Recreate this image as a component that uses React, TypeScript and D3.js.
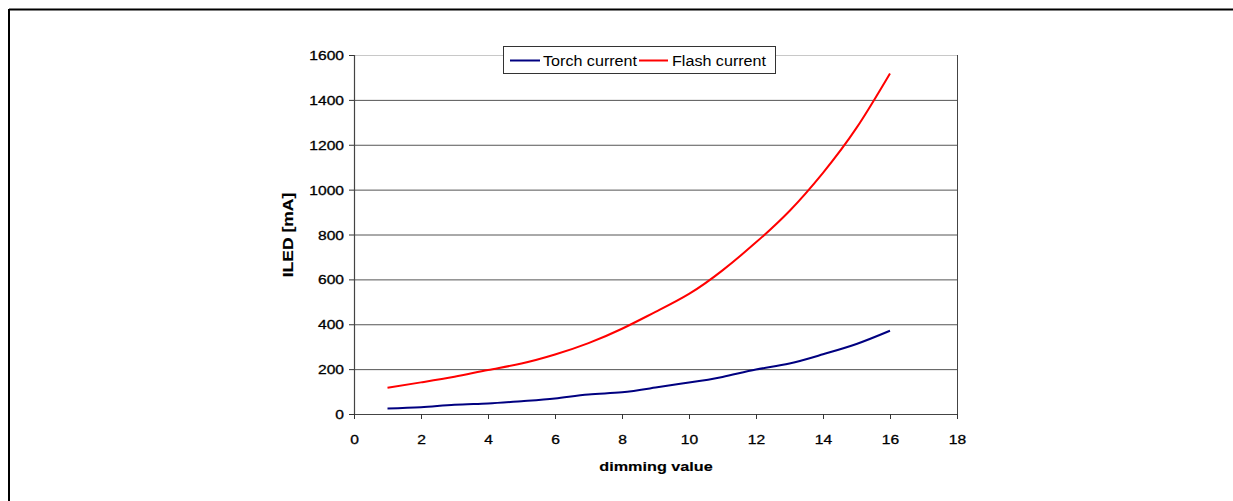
import React from "react";
import * as d3 from "d3";

const dimming = [1, 2, 3, 4, 5, 6, 7, 8, 9, 10, 11, 12, 13, 14, 15, 16];
const torchCurrent = [25, 30, 41, 47, 57, 69, 87, 97, 118, 140, 165, 198, 225, 266, 312, 371];
const flashCurrent = [117, 141, 166, 196, 225, 265, 316, 380, 455, 535, 640, 765, 905, 1075, 1275, 1518];
const xTicks = [0, 2, 4, 6, 8, 10, 12, 14, 16, 18];
const yTicks = [0, 200, 400, 600, 800, 1000, 1200, 1400, 1600];
const seriesNames = ["Torch current", "Flash current"];
const seriesColors = ["#000080", "#ff0000"];

const W = 1233;
const H = 501;
const X0 = 354, X1 = 957, Y0 = 414, Y1 = 55;
const FONT = "'Liberation Sans', Arial, Helvetica, sans-serif";
const SX = 1.2;

function SText({ x, y, anchor, size, bold, children, rotate, sx }: any) {
  const s = sx || SX;
  const tr = rotate
    ? `translate(${x},${y}) rotate(${rotate}) scale(${s},1)`
    : `translate(${x},${y}) scale(${s},1)`;
  return (
    <text
      transform={tr}
      textAnchor={anchor}
      fontFamily={FONT}
      fontSize={size}
      fontWeight={bold ? "bold" : "normal"}
      fill="#000"
      stroke="#000"
      strokeWidth={bold ? 0.15 : 0.3}
    >
      {children}
    </text>
  );
}

export default function App() {
  const x = d3.scaleLinear().domain([0, 18]).range([X0, X1]);
  const y = d3.scaleLinear().domain([0, 1600]).range([Y0, Y1]);
  const line = d3
    .line<number>()
    .x((_, i) => x(dimming[i]))
    .y((d) => y(d))
    .curve(d3.curveNatural);

  const series = [torchCurrent, flashCurrent];

  return (
    <svg
      width={W}
      height={H}
      style={{ position: "fixed", left: 0, top: 0, background: "#fff" }}
    >
      <rect x={0} y={0} width={W} height={H} fill="#fff" />
      {/* frame */}
      <line x1={9} x2={W} y1={9.5} y2={9.5} stroke="#000" strokeWidth={2} />
      <line x1={9} x2={9} y1={9} y2={H} stroke="#000" strokeWidth={2} />

      {/* gridlines */}
      {yTicks.filter((t) => t > 0 && t < 1600).map((t) => (
        <line key={t} x1={X0} x2={X1} y1={y(t) + 0.5} y2={y(t) + 0.5} stroke="#555" strokeWidth={1} />
      ))}
      <line x1={X0} x2={X1} y1={y(1600) + 0.5} y2={y(1600) + 0.5} stroke="#c8c8c8" strokeWidth={1} />
      <line x1={X1 + 0.5} x2={X1 + 0.5} y1={y(1600)} y2={Y0} stroke="#444" strokeWidth={1} />

      {/* axes */}
      <line x1={X0 + 0.5} x2={X0 + 0.5} y1={y(1600)} y2={Y0} stroke="#444" strokeWidth={1.2} />
      <line x1={X0} x2={X1} y1={Y0 + 0.5} y2={Y0 + 0.5} stroke="#444" strokeWidth={1.2} />
      {yTicks.map((t) => (
        <g key={"y" + t}>
          <line x1={X0 - 5} x2={X0} y1={y(t) + 0.5} y2={y(t) + 0.5} stroke="#333" />
          <SText x={X0 - 10} y={y(t) + 5} anchor="end" size={13}>
            {t}
          </SText>
        </g>
      ))}
      {xTicks.map((t) => (
        <g key={"x" + t}>
          <line x1={x(t) + 0.5} x2={x(t) + 0.5} y1={Y0} y2={Y0 + 5} stroke="#333" />
          <SText x={x(t) + 0.5} y={Y0 + 30} anchor="middle" size={13}>
            {t}
          </SText>
        </g>
      ))}

      {/* axis titles */}
      <SText x={656} y={471} anchor="middle" size={13.5} bold>
        dimming value
      </SText>
      <SText x={293} y={235} anchor="middle" size={14} bold rotate={-90} sx={1.25}>
        ILED [mA]
      </SText>

      {/* series */}
      {series.map((s, i) => (
        <path key={i} d={line(s) || ""} fill="none" stroke={seriesColors[i]} strokeWidth={2} />
      ))}

      {/* legend */}
      <rect x={503.5} y={46.5} width={272} height={27} fill="#fff" stroke="#333" strokeWidth={1} />
      <line x1={510} x2={540} y1={60.5} y2={60.5} stroke={seriesColors[0]} strokeWidth={2} />
      <text x={543} y={65.5} fontFamily={FONT} fontSize={15.5} fill="#000" textLength={94} lengthAdjust="spacingAndGlyphs">
        {seriesNames[0]}
      </text>
      <line x1={639} x2={668} y1={60.5} y2={60.5} stroke={seriesColors[1]} strokeWidth={2} />
      <text x={672} y={65.5} fontFamily={FONT} fontSize={15.5} fill="#000" textLength={94} lengthAdjust="spacingAndGlyphs">
        {seriesNames[1]}
      </text>
    </svg>
  );
}
